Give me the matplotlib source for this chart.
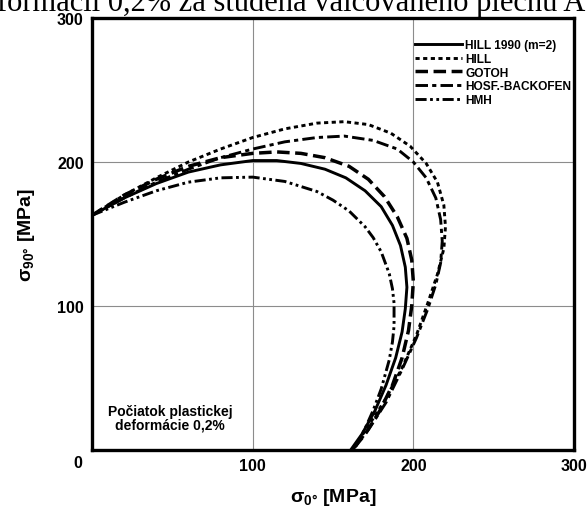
import matplotlib
matplotlib.use('Agg')
import matplotlib.pyplot as plt

plt.rcParams['font.family'] = ['Liberation Sans', 'DejaVu Sans']
plt.rcParams['lines.scale_dashes'] = False

# Yield loci: (sigma_0, sigma_90) in MPa
hill1990_s0 = [0, 20, 40, 60, 80, 100, 115, 130, 145, 158, 170, 180, 187, 192, 195, 196, 195, 193, 189, 183, 176, 168, 161]
hill1990_s90 = [163, 175, 185, 193, 198, 201, 201, 199, 195, 189, 180, 169, 156, 142, 127, 113, 98, 82, 64, 45, 27, 11, 0]

hill_s0 = [0, 20, 40, 60, 80, 100, 120, 140, 157, 172, 186, 198, 208, 215, 219, 220, 219, 215, 209, 202, 193, 182, 171, 162]
hill_s90 = [163, 177, 189, 200, 209, 217, 223, 227, 228, 226, 220, 211, 199, 186, 170, 155, 140, 122, 102, 80, 57, 34, 15, 0]

gotoh_s0 = [0, 20, 40, 60, 80, 100, 115, 130, 145, 160, 172, 182, 190, 196, 199, 200, 199, 197, 193, 187, 179, 170, 162]
gotoh_s90 = [163, 177, 188, 197, 203, 206, 207, 206, 203, 197, 188, 176, 162, 147, 132, 117, 100, 83, 64, 45, 27, 11, 0]

hosf_s0 = [0, 20, 40, 60, 80, 100, 120, 140, 157, 175, 190, 200, 208, 214, 217, 218, 217, 214, 209, 202, 193, 183, 172, 162]
hosf_s90 = [163, 175, 186, 195, 203, 209, 214, 217, 218, 215, 209, 200, 189, 175, 160, 145, 130, 115, 98, 78, 56, 33, 14, 0]

hmh_s0 = [0, 20, 40, 60, 80, 100, 120, 140, 150, 160, 170, 175, 180, 185, 187, 188, 188, 187, 185, 180, 175, 170, 166, 163]
hmh_s90 = [163, 172, 180, 186, 189, 189.5, 186.5, 179.5, 173.5, 166, 155, 147.5, 137.6, 122.5, 112, 102, 86, 75, 62.5, 42.4, 27.5, 15, 6.2, 0]

ticks = [100, 200, 300]
tick_labels = ['100', '200', '300']

fig = plt.figure(figsize=(5.87, 5.10), dpi=100)
ax = fig.add_axes([92 / 587, 59 / 510, 482 / 587, 432 / 510])

lw = 2.1
ax.plot(hill1990_s0, hill1990_s90, color='black', lw=lw, label='HILL 1990 (m=2)')
ax.plot(hill_s0, hill_s90, color='black', lw=lw, dashes=(3, 2.5), label='HILL')
ax.plot(gotoh_s0, gotoh_s90, color='black', lw=lw + 0.4, dashes=(9, 4), label='GOTOH')
ax.plot(hosf_s0, hosf_s90, color='black', lw=lw, dashes=(9, 3, 3, 3), label='HOSF.-BACKOFEN')
ax.plot(hmh_s0, hmh_s90, color='black', lw=lw, dashes=(8, 2.5, 2, 2.5, 2, 2.5), label='HMH')

ax.set_xlim(0, 300)
ax.set_ylim(0, 300)
ax.set_xticks(ticks)
ax.set_xticklabels(tick_labels)
ax.set_yticks(ticks)
ax.set_yticklabels(tick_labels)
ax.tick_params(length=0, labelsize=11.5, pad=6)
for lab in ax.get_xticklabels() + ax.get_yticklabels():
    lab.set_fontweight('bold')
ax.grid(True, color='#8c8c8c', lw=0.8)
ax.set_axisbelow(True)
for sp in ax.spines.values():
    sp.set_linewidth(2.4)

ax.text(-9, -8.5, '0', fontsize=11.5, fontweight='bold', ha='center', va='center')

ax.set_xlabel(r'$\mathregular{σ_{0°}}$ [MPa]', fontsize=14, fontweight='bold', labelpad=9)
ax.set_ylabel(r'$\mathregular{σ_{90°}}$ [MPa]', fontsize=14, fontweight='bold', labelpad=14)

ax.text(48.5, 22.5, 'Počiatok plastickej\ndeformácie 0,2%', fontsize=10, fontweight='bold',
        ha='center', va='center', linespacing=1.0)

leg = ax.legend(loc='upper right', frameon=False, fontsize=8.6, handlelength=3.9,
                handletextpad=0.25, labelspacing=0.15, borderpad=0, borderaxespad=0,
                bbox_to_anchor=(1 - 3 / 482, 1 - 21 / 432))
for t in leg.get_texts():
    t.set_fontweight('bold')

fig.text(-0.005, 1 - 10.5 / 510, 'formácii 0,2% za studena valcovaného plechu A',
         family='Liberation Serif', fontsize=22, ha='left', va='baseline')

fig.savefig('out.png', dpi=100)
